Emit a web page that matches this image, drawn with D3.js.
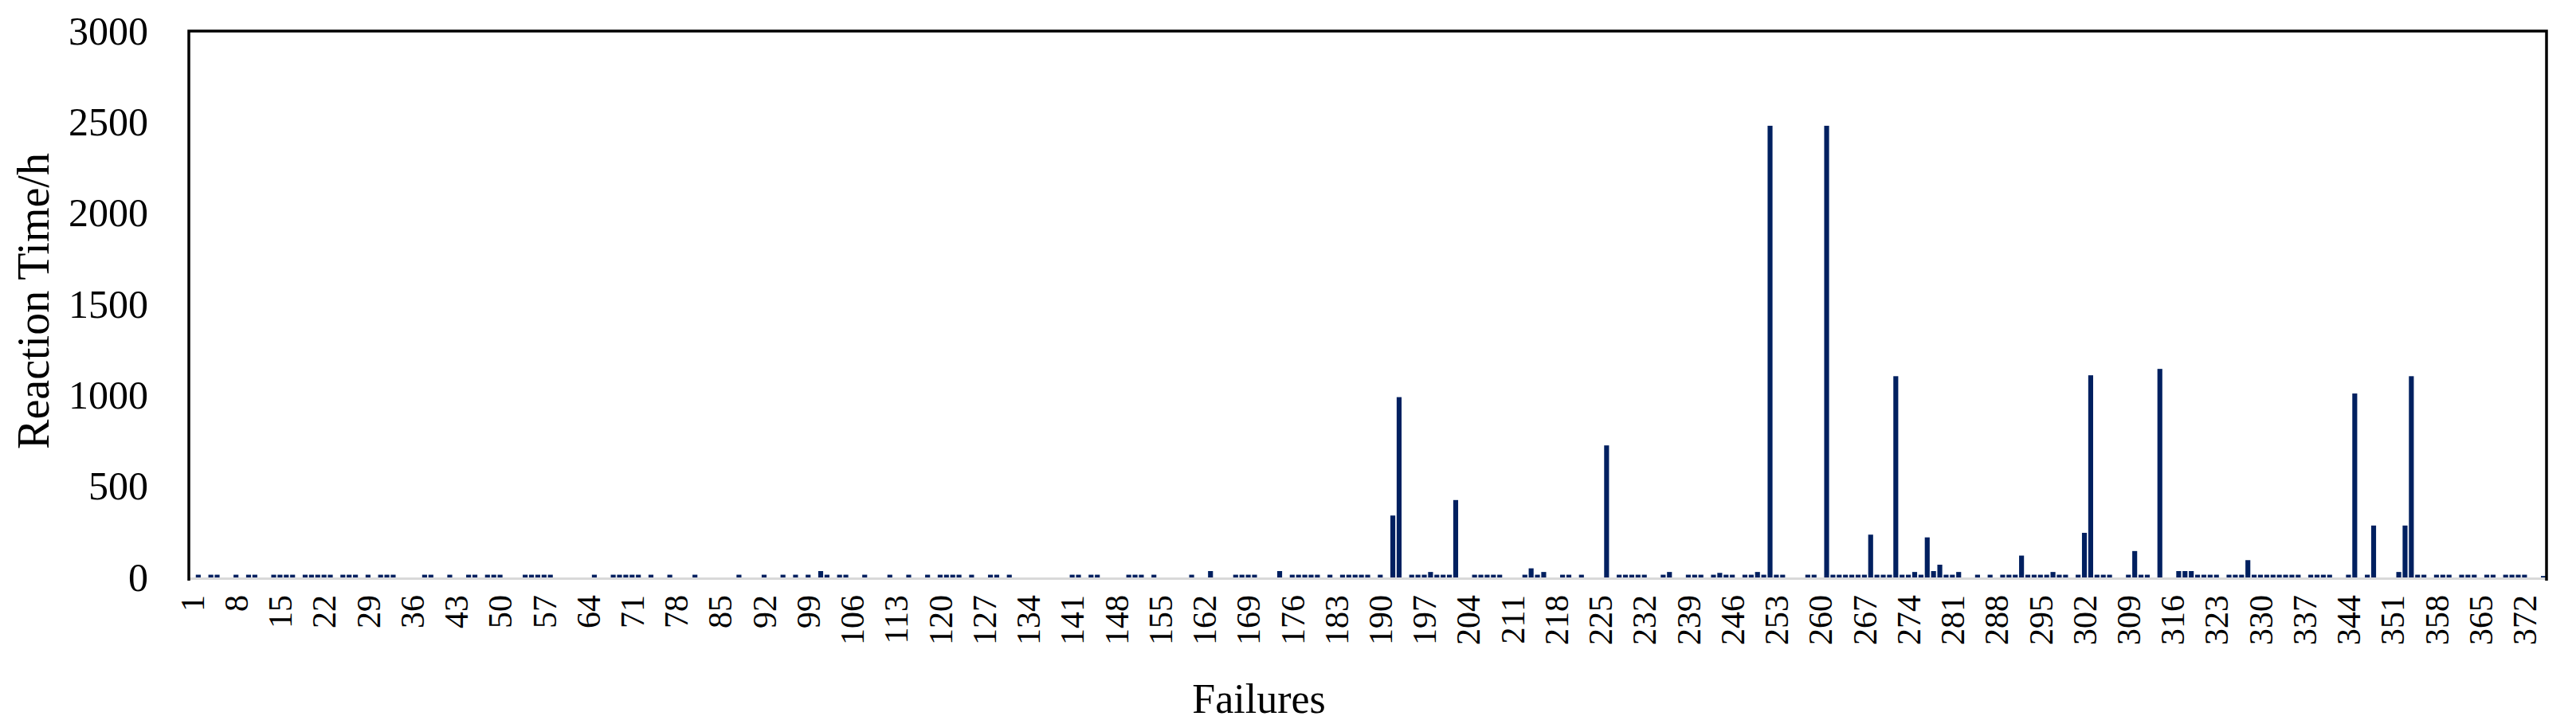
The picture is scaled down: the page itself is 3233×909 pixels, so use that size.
<!DOCTYPE html>
<html>
<head>
<meta charset="utf-8">
<script src="https://cdn.jsdelivr.net/npm/d3@7"></script>
<style>
  html, body { margin: 0; padding: 0; background: #ffffff; }
  svg { display: block; }
  text { font-family: "Liberation Serif", "Times New Roman", serif; fill: #000; }
</style>
</head>
<body>
<svg id="chart" width="3233" height="909"></svg>
<script>
// ---------------- data ----------------
const failureCount = 375;
const categories = d3.range(1, failureCount + 1);

// failure numbers that have a visible bar, and their reaction time (h)
const failureIds = [
  2,4,5,8,10,11,14,15,16,17,19,20,21,22,23,25,26,27,29,31,32,33,38,39,42,45,46,48,49,50,
  54,55,56,57,58,65,68,69,70,71,72,74,
  77,81,88,92,95,97,99,101,102,104,105,108,112,115,118,120,121,122,123,125,128,129,131,
  141,142,144,145,150,151,
  152,154,160,163,167,168,169,170,174,176,177,178,179,180,182,184,185,186,187,188,190,
  192,193,195,196,197,198,199,200,201,202,205,206,207,208,209,213,214,215,216,219,220,222,226,
  228,229,230,231,232,235,236,239,240,241,243,244,245,246,248,249,250,251,252,253,254,258,259,
  261,262,263,264,265,266,267,268,269,270,271,272,273,274,275,276,277,278,279,280,281,282,
  285,287,289,290,291,292,293,294,295,296,297,298,299,301,
  302,303,304,305,306,309,310,311,312,314,317,318,319,320,321,322,323,325,326,327,328,
  329,330,331,332,333,334,335,336,338,339,340,341,344,345,347,348,352,353,354,355,356,
  358,359,360,362,363,364,366,367,369,370,371,372,375
];
const reactionTimes = [
  15,15,15,15,15,15,15,15,15,15,15,15,15,15,15,15,15,15,15,15,15,15,15,15,15,15,15,15,15,15,
  15,15,15,15,15,15,15,15,15,15,15,15,
  15,15,15,15,15,15,15,35,15,15,15,15,15,15,15,15,15,15,15,15,15,15,15,
  15,15,15,15,15,15,
  15,15,15,35,15,15,15,15,35,15,15,15,15,15,15,15,15,15,15,15,15,
  340,990,15,15,15,30,15,15,15,425,15,15,15,15,15,15,50,15,30,15,15,15,725,
  15,15,15,15,15,15,30,15,15,15,15,25,15,15,15,15,30,15,2480,15,15,15,15,
  2480,15,15,15,15,15,15,235,15,15,15,1105,15,15,30,15,220,35,70,15,15,30,
  15,15,15,15,15,120,15,15,15,15,30,15,15,15,
  245,1110,15,15,15,15,145,15,15,1145,35,35,35,15,15,15,15,15,15,15,95,
  15,15,15,15,15,15,15,15,15,15,15,15,15,1010,15,285,30,285,1105,15,15,
  15,15,15,15,15,15,15,15,15,15,15,15,8
];
const xTickLabels = [1,8,15,22,29,36,43,50,57,64,71,78,85,92,99,106,113,120,127,134,141,148,155,
  162,169,176,183,190,197,204,211,218,225,232,239,246,253,260,267,274,281,288,295,302,309,316,
  323,330,337,344,351,358,365,372];
const yTickValues = [0,500,1000,1500,2000,2500,3000];
const xTitle = "Failures";
const yTitle = "Reaction Time/h";

const bars = failureIds.map((id, i) => ({ id: id, value: reactionTimes[i] }));

// ---------------- layout ----------------
const plot = { left: 237, right: 3196, top: 39, bottom: 725 };
const barColor = "#002060";

const svg = d3.select("#chart");

const x = d3.scaleBand()
  .domain(categories)
  .range([plot.left, plot.right])
  .paddingInner(0.22)
  .paddingOuter(0.11);

const y = d3.scaleLinear()
  .domain([0, 3000])
  .range([plot.bottom, plot.top]);

// category axis line (light grey)
svg.append("line")
  .attr("x1", plot.left).attr("x2", plot.right)
  .attr("y1", plot.bottom + 1.5).attr("y2", plot.bottom + 1.5)
  .attr("stroke", "#d9d9d9").attr("stroke-width", 3);

// bars
svg.append("g").selectAll("rect")
  .data(bars)
  .join("rect")
  .attr("x", d => x(d.id))
  .attr("width", x.bandwidth())
  .attr("y", d => y(d.value))
  .attr("height", d => y(0) - y(d.value))
  .attr("fill", barColor);

// plot border (left, top, right)
svg.append("path")
  .attr("d", `M${plot.left},${plot.bottom + 4}V${plot.top}H${plot.right}V${plot.bottom + 4}`)
  .attr("fill", "none")
  .attr("stroke", "#000")
  .attr("stroke-width", 3.5);

// y axis
const yAxis = svg.append("g")
  .attr("transform", `translate(${plot.left},0)`)
  .call(d3.axisLeft(y).tickValues(yTickValues).tickFormat(d3.format("d")).tickSize(0).tickPadding(51));
yAxis.select(".domain").remove();
yAxis.selectAll("text")
  .style("font-family", '"Liberation Serif", "Times New Roman", serif')
  .style("font-size", "50px")
  .attr("fill", "#000");

// x axis
const xAxis = svg.append("g")
  .attr("transform", `translate(0,${plot.bottom})`)
  .call(d3.axisBottom(x).tickValues(xTickLabels).tickSize(0));
xAxis.select(".domain").remove();
xAxis.selectAll("text")
  .style("font-family", '"Liberation Serif", "Times New Roman", serif')
  .style("font-size", "42px")
  .attr("fill", "#000")
  .attr("transform", "rotate(-90)")
  .attr("x", -22)
  .attr("y", 0)
  .attr("dy", "0.35em")
  .style("text-anchor", "end");

// axis titles
svg.append("text")
  .attr("x", 1580).attr("y", 895)
  .attr("text-anchor", "middle")
  .style("font-size", "52px")
  .text(xTitle);

svg.append("text")
  .attr("transform", "translate(61,378) rotate(-90)")
  .attr("text-anchor", "middle")
  .style("font-size", "56px")
  .text(yTitle);
</script>
</body>
</html>
